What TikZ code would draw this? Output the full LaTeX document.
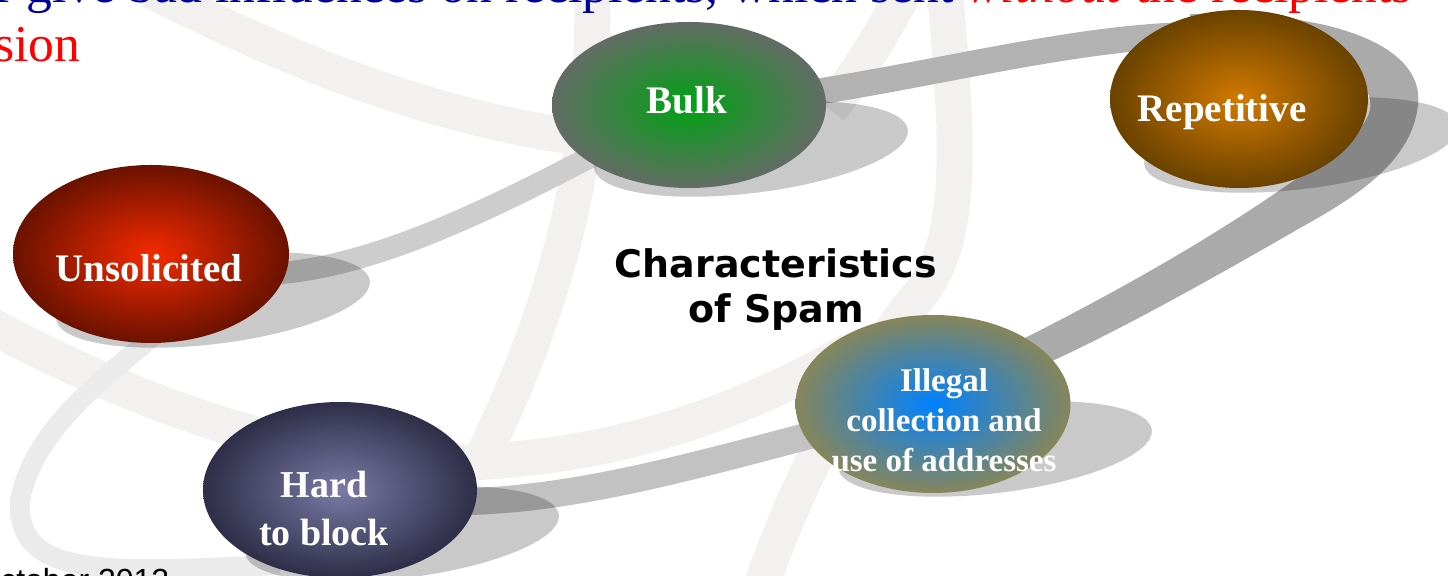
\documentclass[tikz,border=0pt]{standalone}
\usepackage{fontspec}
\setmainfont{Liberation Serif}
\newfontfamily\titlefont{DejaVu Sans}
\newfontfamily\datefont{Liberation Sans}
\usetikzlibrary{shapes.geometric,calc}
\pgfdeclarelayer{decor}
\pgfdeclarelayer{bands}
\pgfsetlayers{decor,bands,main}
\definecolor{decorc}{HTML}{F2F1F0}
\definecolor{loopc}{HTML}{EBEBEB}
\definecolor{bandAc}{HTML}{CDCDCD}
\definecolor{bandBc}{HTML}{C2C2C2}
\definecolor{bandCc}{HTML}{B2B2B2}
\definecolor{ringc}{HTML}{AAAAAA}
\definecolor{topblue}{HTML}{0000A0}
\definecolor{uin}{HTML}{F52A00}
\definecolor{uout}{HTML}{6A1200}
\definecolor{bin}{HTML}{00A214}
\definecolor{bout}{HTML}{626C64}
\definecolor{rin}{HTML}{D27A00}
\definecolor{rout}{HTML}{6A4200}
\definecolor{iin}{HTML}{0082FF}
\definecolor{iout}{HTML}{86865A}
\definecolor{hin}{HTML}{7A7AA6}
\definecolor{hout}{HTML}{2E2E48}
\begin{document}
\begin{tikzpicture}[x=0.5pt,y=-0.5pt,
  decorband/.style={draw=decorc, line width=18pt},
  loopband/.style={draw=loopc, line width=10pt},
  bandone/.style={draw=bandAc, line width=11pt},
  bandthree/.style={draw=bandBc, line width=13.5pt},
  bandtwo/.style={draw=bandCc, line width=13pt},
  ringband/.style={fill=ringc, draw=none},
  bubble/.style={ellipse, inner sep=0pt, draw=none},
  shadowell/.style={ellipse, inner sep=0pt, fill=black, fill opacity=0.21, draw=none, minimum width=158pt, minimum height=44pt, rotate=7},
  lbl/.style={text=white, font=\bfseries\fontsize{19.5}{24}\selectfont, align=center, inner sep=0pt, anchor=base},
]
\useasboundingbox (0,0) rectangle (1448,576);
\clip (0,0) rectangle (1448,576);

% characteristic bubbles
\node[bubble, minimum width=138pt, minimum height=89pt, inner color=uin, outer color=uout] (uns) at (151,254) {};
\node[bubble, minimum width=137pt, minimum height=83pt, inner color=bin, outer color=bout] (bulk) at (689,105) {};
\node[bubble, minimum width=129pt, minimum height=89pt, inner color=rin, outer color=rout] (rep) at (1239,99) {};
\node[bubble, minimum width=137.5pt, minimum height=89pt, inner color=iin, outer color=iout] (ill) at (933,404) {};
\node[bubble, minimum width=137pt, minimum height=88pt, inner color=hin, outer color=hout] (hard) at (340,490) {};

% labels (base anchor = baseline of the last line)
\node[lbl] (uns-t) at ($(uns.center)+(-2,28)$) {Unsolicited};
\node[lbl] (bulk-t) at ($(bulk.center)+(-2,9)$) {Bulk};
\node[lbl] (rep-t) at ($(rep.center)+(-17,23)$) {Repetitive};
\node[lbl, font=\bfseries\fontsize{16.5}{20}\selectfont] (ill-t) at ($(ill.center)+(11,68)$) {Illegal\\collection and\\use of addresses};
\node[lbl, font=\bfseries\fontsize{19}{24}\selectfont] (hard-t) at ($(hard.center)+(-16,56)$) {Hard\\to block};

\node[font=\titlefont\bfseries\fontsize{19}{22.5}\selectfont, align=center, anchor=base, inner sep=0pt] (title) at (776,323) {Characteristics\\of Spam};

% slide text cut by the frame
\node[anchor=base west, inner sep=0pt, font=\fontsize{25.8}{30}\selectfont] (line1) at (-4,3) {\textcolor{topblue}{r give bad influences on recipients, which sent }\textcolor{red}{\textit{without} the recipients}};
\node[anchor=base west, inner sep=0pt, font=\fontsize{25.8}{30}\selectfont, text=red] (line2) at (-6,62) {sion};
\node[anchor=base west, inner sep=0pt, font=\datefont\fontsize{16}{19}\selectfont] (date) at (-25,592) {October 2012};

% background ornament
\begin{pgfonlayer}{decor}
\draw[decorband] (150,-10) .. controls (260,45) and (420,120) .. (600,140);
\draw[decorband] (-10,325) .. controls (120,395) and (300,470) .. (480,462) .. controls (600,455) and (720,425) .. (850,350);
\draw[decorband] (592,-10) .. controls (596,150) and (560,300) .. (480,462);
\draw[decorband] (945,-10) .. controls (955,120) and (970,240) .. (915,300) .. controls (860,370) and (800,470) .. (760,590);
\draw[decorband] (905,-10) .. controls (885,30) and (860,70) .. (830,110);
\end{pgfonlayer}

% connecting bands and shadows
\begin{pgfonlayer}{bands}
\draw[loopband] ($(uns.center)+(9,76)$) .. controls (110,375) and (35,425) .. (20,500) .. controls (15,580) and (110,572) .. ($(hard.center)+(-60,75)$);
\draw[bandone] (uns.center) .. controls (300,320) and (480,215) .. (bulk.center);
\draw[bandthree] (hard.center) .. controls (520,530) and (700,460) .. (ill.center);
\draw[bandtwo] (bulk.center) .. controls (850,100) and (1050,35) .. (1200,35) coordinate (ringA);
\fill[ringband] ($(ringA)+(-10,-21)$) .. controls (1330,10) and (1425,45) .. (1418,105) .. controls (1412,160) and (1360,195) .. (1300,228) .. controls (1210,280) and (1120,330) .. (1050,362) -- ($(ill.center)+(92,-66)$) .. controls (1110,295) and (1200,245) .. (1280,190) .. controls (1340,150) and (1375,125) .. (1370,100) .. controls (1365,65) and (1280,56) .. ($(ringA)+(-10,23)$) -- cycle;
\node[shadowell] (uns-s) at ($(uns.center)+(62,46)$) {};
\node[shadowell] (bulk-s) at ($(bulk.center)+(62,44)$) {};
\node[shadowell] (rep-s) at ($(rep.center)+(62,46)$) {};
\node[shadowell] (ill-s) at ($(ill.center)+(62,45)$) {};
\node[shadowell] (hard-s) at ($(hard.center)+(62,44)$) {};
\end{pgfonlayer}
\end{tikzpicture}
\end{document}
